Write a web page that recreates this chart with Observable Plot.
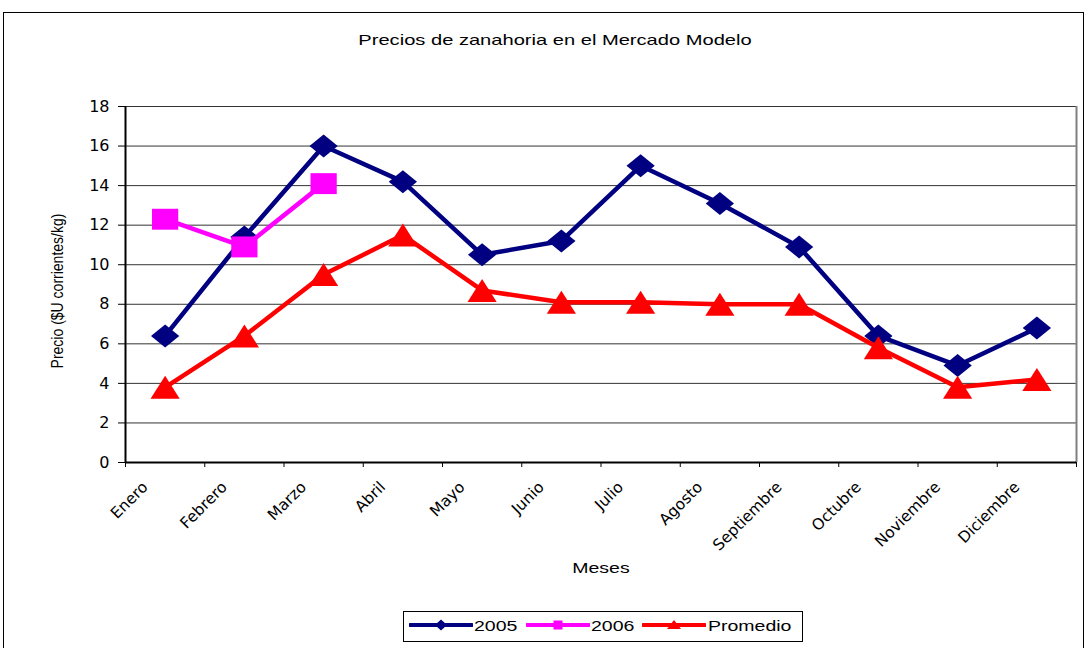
<!DOCTYPE html>
<html>
<head>
<meta charset="utf-8">
<script src="https://cdn.jsdelivr.net/npm/d3@7"></script>
<script src="https://cdn.jsdelivr.net/npm/@observablehq/plot@0.6"></script>
<style>
  html, body { margin: 0; padding: 0; background: #fff; }
  #wrap { position: relative; width: 1087px; height: 648px; overflow: hidden; font-family: "Liberation Sans", Arial, sans-serif; }
  #frame { position: absolute; left: 3px; top: 12px; width: 1081px; height: 700px; border: 1px solid #000; box-sizing: border-box; }
  #chart { position: absolute; left: 0; top: 0; }
  .t { position: absolute; white-space: nowrap; font-size: 15px; line-height: 18px; color: #000; }
  #title { left: 555px; top: 31px; transform: translateX(-50%) scaleX(1.34); }
  #xlabel { left: 601px; top: 559px; transform: translateX(-50%) scaleX(1.3); }
  #ylabel { left: 57px; top: 291px; font-size: 14px; transform: translate(-50%, -50%) rotate(-90deg) scaleY(1.2); }
  #legend { position: absolute; left: 403px; top: 611px; width: 400px; height: 31px; border: 1px solid #000; box-sizing: border-box; background: #fff; }
  #legend svg { position: absolute; top: 0; }
  #legend .lt { position: absolute; top: 5px; transform-origin: left center; transform: scaleX(1.3); }
  #chart svg text { font-family: "DejaVu Sans", sans-serif; }
</style>
</head>
<body>
<div id="wrap">
  <div id="frame"></div>
  <div id="chart"></div>
  <div id="title" class="t">Precios de zanahoria en el Mercado Modelo</div>
  <div id="xlabel" class="t">Meses</div>
  <div id="ylabel" class="t">Precio ($U corrientes/kg)</div>
  <div id="legend"></div>
</div>
<script>
// ---- data ----
const months = ["Enero","Febrero","Marzo","Abril","Mayo","Junio","Julio","Agosto","Septiembre","Octubre","Noviembre","Diciembre"];
const v2005 = [6.4, 11.4, 16.0, 14.2, 10.5, 11.2, 15.0, 13.1, 10.9, 6.4, 4.9, 6.8];
const v2006 = [12.3, 10.9, 14.1];
const promedio = [3.8, 6.4, 9.5, 11.5, 8.7, 8.1, 8.1, 8.0, 8.0, 5.8, 3.8, 4.2];
const yTicks = [0, 2, 4, 6, 8, 10, 12, 14, 16, 18];
const seriesNames = ["2005", "2006", "Promedio"];

// ---- symbols (wide, Excel-like markers) ----
function mk(fn) { return { draw(ctx, size) { fn(ctx, Math.sqrt(size / Math.PI)); } }; }
const diamond = mk((c, k) => { c.moveTo(0, -k); c.lineTo(1.23 * k, 0); c.lineTo(0, k); c.lineTo(-1.23 * k, 0); c.closePath(); });
const square = mk((c, k) => { const w = 1.14 * k, h = 0.91 * k; c.moveTo(-w, -h); c.lineTo(w, -h); c.lineTo(w, h); c.lineTo(-w, h); c.closePath(); });
const triangle = mk((c, k) => { c.moveTo(0, -k); c.lineTo(1.27 * k, k); c.lineTo(-1.27 * k, k); c.closePath(); });

const colors = ["#000080", "#FF00FF", "#FF0000"];
const symbols = [diamond, square, triangle];

const toRows = (vals) => vals.map((v, i) => ({ i: i + 0.5, v }));
const seriesRows = [toRows(v2005), toRows(v2006), toRows(promedio)];

const marks = [
  Plot.ruleY(yTicks, { stroke: "#000", strokeOpacity: 0.8, strokeWidth: 1 }),
  Plot.ruleX([12], { stroke: "#808080", strokeWidth: 2 }),
  Plot.axisY({ ticks: yTicks, tickSize: 7, tickPadding: 9, fontSize: 16, label: null, stroke: "#000" }),
  Plot.axisX({ ticks: d3.range(0, 13), tickSize: 5, tickFormat: () => "", label: null }),
  Plot.axisX({ ticks: months.map((m, i) => i + 0.5), tickFormat: v => months[Math.round(v - 0.5)], tickSize: 0, tickRotate: -45, tickPadding: 22, dx: -20, fontSize: 15.5, label: null }),
  Plot.ruleX([0], { stroke: "#000", strokeWidth: 2 }),
  Plot.ruleY([0], { stroke: "#000", strokeWidth: 2 })
];
seriesRows.forEach((rows, s) => {
  marks.push(Plot.line(rows, { x: "i", y: "v", stroke: colors[s], strokeWidth: 4.5, curve: "linear" }));
  marks.push(Plot.dot(rows, { x: "i", y: "v", symbol: () => symbols[s], r: 11.5, fill: colors[s], stroke: "none" }));
});

const chart = Plot.plot({
  width: 1087,
  height: 648,
  marginLeft: 125,
  marginRight: 11,
  marginTop: 106,
  marginBottom: 186,
  x: { type: "linear", domain: [0, 12], axis: null },
  y: { domain: [0, 18], axis: null },
  style: { background: "transparent", overflow: "visible" },
  marks
});
document.getElementById("chart").appendChild(chart);

// ---- legend ----
const legend = document.getElementById("legend");
const items = [
  { sx: 5, tx: 70, sym: "d" },
  { sx: 122, tx: 187, sym: "s" },
  { sx: 238, tx: 304, sym: "t" }
];
items.forEach((it, s) => {
  const svg = d3.create("svg").attr("width", 64).attr("height", 29).style("left", it.sx + "px");
  svg.append("line").attr("x1", 1).attr("x2", 63).attr("y1", 13).attr("y2", 13)
    .attr("stroke", colors[s]).attr("stroke-width", 4).attr("stroke-linecap", "round");
  const cx = 32, cy = 13;
  let d;
  if (it.sym === "d") d = `M${cx},${cy - 5.5}L${cx + 6},${cy}L${cx},${cy + 5.5}L${cx - 6},${cy}Z`;
  else if (it.sym === "s") d = `M${cx - 4.5},${cy - 4.5}h9v9h-9Z`;
  else d = `M${cx},${cy - 5}L${cx + 7},${cy + 4}L${cx - 7},${cy + 4}Z`;
  svg.append("path").attr("d", d).attr("fill", colors[s]);
  legend.appendChild(svg.node());
  const t = document.createElement("div");
  t.className = "t lt";
  t.style.left = it.tx + "px";
  t.textContent = seriesNames[s];
  legend.appendChild(t);
});
</script>
</body>
</html>
